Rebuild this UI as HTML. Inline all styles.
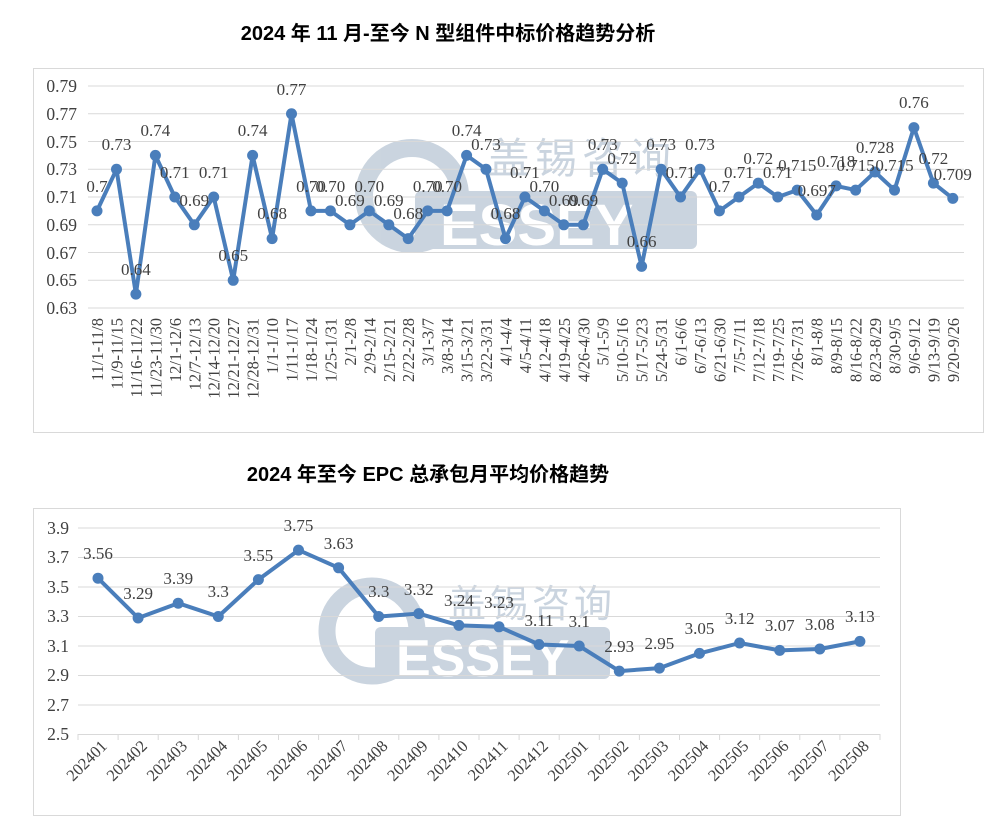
<!DOCTYPE html>
<html><head><meta charset="utf-8"><style>
body{margin:0;background:#fff}
svg{display:block}
.t{font-family:"Liberation Serif","Noto Serif CJK SC",serif;fill:#404040}
.h{font-family:"Liberation Sans","Noto Sans CJK SC",sans-serif;font-weight:bold;fill:#000;font-size:20px}
</style></head><body>
<svg width="989" height="835" viewBox="0 0 989 835">
<text class="h" x="448" y="40" text-anchor="middle">2024 年 11 月-至今 N 型组件中标价格趋势分析</text>
<rect x="33.5" y="68.5" width="950" height="364" fill="none" stroke="#d9d9d9"/>
<g opacity="0.9">
<circle cx="412" cy="196" r="48" fill="none" stroke="#c5d0dc" stroke-width="18"/>
<rect x="415" y="191" width="282" height="58" rx="6" fill="#c5d0dc"/>
<text x="440" y="245" font-family="Liberation Sans,sans-serif" font-weight="bold" font-size="58" fill="#fff">ESSEY</text>
<text x="488" y="173" font-family="Noto Sans CJK SC,sans-serif" font-size="42" fill="#c5d0dc" letter-spacing="5">盖锡咨询</text>
</g>
<g stroke="#d9d9d9" stroke-width="1">
<line x1="88" x2="964" y1="86" y2="86"/><line x1="88" x2="964" y1="113.75" y2="113.75"/><line x1="88" x2="964" y1="141.5" y2="141.5"/><line x1="88" x2="964" y1="169.25" y2="169.25"/><line x1="88" x2="964" y1="197" y2="197"/><line x1="88" x2="964" y1="224.75" y2="224.75"/><line x1="88" x2="964" y1="252.5" y2="252.5"/><line x1="88" x2="964" y1="280.25" y2="280.25"/><line x1="88" x2="964" y1="308" y2="308"/>
</g>
<g class="t" font-size="17.5" text-anchor="end">
<text x="77" y="92">0.79</text><text x="77" y="120">0.77</text><text x="77" y="148">0.75</text><text x="77" y="175">0.73</text><text x="77" y="203">0.71</text><text x="77" y="231">0.69</text><text x="77" y="259">0.67</text><text x="77" y="286">0.65</text><text x="77" y="314">0.63</text>
</g>
<polyline fill="none" stroke="#4a7ebb" stroke-width="4" stroke-linejoin="round" points="97,210.9 116.5,169.3 135.9,294.1 155.4,155.4 174.8,197 194.3,224.8 213.7,197 233.2,280.3 252.6,155.4 272.1,238.6 291.5,113.8 311,210.9 330.4,210.9 349.9,224.8 369.3,210.9 388.8,224.8 408.2,238.6 427.7,210.9 447.1,210.9 466.6,155.4 486,169.3 505.5,238.6 524.9,197 544.4,210.9 563.8,224.8 583.3,224.8 602.7,169.3 622.2,183.1 641.6,266.4 661.1,169.3 680.5,197 700,169.3 719.4,210.9 738.9,197 758.3,183.1 777.8,197 797.2,190.1 816.7,215 836.1,185.9 855.6,190.1 875,172 894.5,190.1 913.9,127.6 933.4,183.1 952.8,198.4"/>
<g fill="#4a7ebb">
<circle cx="97" cy="210.9" r="5.5"/><circle cx="116.5" cy="169.3" r="5.5"/><circle cx="135.9" cy="294.1" r="5.5"/><circle cx="155.4" cy="155.4" r="5.5"/><circle cx="174.8" cy="197" r="5.5"/><circle cx="194.3" cy="224.8" r="5.5"/><circle cx="213.7" cy="197" r="5.5"/><circle cx="233.2" cy="280.3" r="5.5"/><circle cx="252.6" cy="155.4" r="5.5"/><circle cx="272.1" cy="238.6" r="5.5"/><circle cx="291.5" cy="113.8" r="5.5"/><circle cx="311" cy="210.9" r="5.5"/><circle cx="330.4" cy="210.9" r="5.5"/><circle cx="349.9" cy="224.8" r="5.5"/><circle cx="369.3" cy="210.9" r="5.5"/><circle cx="388.8" cy="224.8" r="5.5"/><circle cx="408.2" cy="238.6" r="5.5"/><circle cx="427.7" cy="210.9" r="5.5"/><circle cx="447.1" cy="210.9" r="5.5"/><circle cx="466.6" cy="155.4" r="5.5"/><circle cx="486" cy="169.3" r="5.5"/><circle cx="505.5" cy="238.6" r="5.5"/><circle cx="524.9" cy="197" r="5.5"/><circle cx="544.4" cy="210.9" r="5.5"/><circle cx="563.8" cy="224.8" r="5.5"/><circle cx="583.3" cy="224.8" r="5.5"/><circle cx="602.7" cy="169.3" r="5.5"/><circle cx="622.2" cy="183.1" r="5.5"/><circle cx="641.6" cy="266.4" r="5.5"/><circle cx="661.1" cy="169.3" r="5.5"/><circle cx="680.5" cy="197" r="5.5"/><circle cx="700" cy="169.3" r="5.5"/><circle cx="719.4" cy="210.9" r="5.5"/><circle cx="738.9" cy="197" r="5.5"/><circle cx="758.3" cy="183.1" r="5.5"/><circle cx="777.8" cy="197" r="5.5"/><circle cx="797.2" cy="190.1" r="5.5"/><circle cx="816.7" cy="215" r="5.5"/><circle cx="836.1" cy="185.9" r="5.5"/><circle cx="855.6" cy="190.1" r="5.5"/><circle cx="875" cy="172" r="5.5"/><circle cx="894.5" cy="190.1" r="5.5"/><circle cx="913.9" cy="127.6" r="5.5"/><circle cx="933.4" cy="183.1" r="5.5"/><circle cx="952.8" cy="198.4" r="5.5"/>
</g>
<g class="t" font-size="17" text-anchor="middle">
<text x="97" y="192">0.7</text><text x="116.5" y="150">0.73</text><text x="135.9" y="275">0.64</text><text x="155.4" y="136">0.74</text><text x="174.8" y="178">0.71</text><text x="194.3" y="206">0.69</text><text x="213.7" y="178">0.71</text><text x="233.2" y="261">0.65</text><text x="252.6" y="136">0.74</text><text x="272.1" y="219">0.68</text><text x="291.5" y="95">0.77</text><text x="311" y="192">0.70</text><text x="330.4" y="192">0.70</text><text x="349.9" y="206">0.69</text><text x="369.3" y="192">0.70</text><text x="388.8" y="206">0.69</text><text x="408.2" y="219">0.68</text><text x="427.7" y="192">0.70</text><text x="447.1" y="192">0.70</text><text x="466.6" y="136">0.74</text><text x="486" y="150">0.73</text><text x="505.5" y="219">0.68</text><text x="524.9" y="178">0.71</text><text x="544.4" y="192">0.70</text><text x="563.8" y="206">0.69</text><text x="583.3" y="206">0.69</text><text x="602.7" y="150">0.73</text><text x="622.2" y="164">0.72</text><text x="641.6" y="247">0.66</text><text x="661.1" y="150">0.73</text><text x="680.5" y="178">0.71</text><text x="700" y="150">0.73</text><text x="719.4" y="192">0.7</text><text x="738.9" y="178">0.71</text><text x="758.3" y="164">0.72</text><text x="777.8" y="178">0.71</text><text x="797.2" y="171">0.715</text><text x="816.7" y="196">0.697</text><text x="836.1" y="167">0.718</text><text x="855.6" y="171">0.715</text><text x="875" y="153">0.728</text><text x="894.5" y="171">0.715</text><text x="913.9" y="108">0.76</text><text x="933.4" y="164">0.72</text><text x="952.8" y="180">0.709</text>
</g>
<g class="t" font-size="16.5" text-anchor="end">
<text transform="translate(103,318) rotate(-90)">11/1-11/8</text><text transform="translate(122.5,318) rotate(-90)">11/9-11/15</text><text transform="translate(141.9,318) rotate(-90)">11/16-11/22</text><text transform="translate(161.4,318) rotate(-90)">11/23-11/30</text><text transform="translate(180.8,318) rotate(-90)">12/1-12/6</text><text transform="translate(200.3,318) rotate(-90)">12/7-12/13</text><text transform="translate(219.7,318) rotate(-90)">12/14-12/20</text><text transform="translate(239.2,318) rotate(-90)">12/21-12/27</text><text transform="translate(258.6,318) rotate(-90)">12/28-12/31</text><text transform="translate(278.1,318) rotate(-90)">1/1-1/10</text><text transform="translate(297.5,318) rotate(-90)">1/11-1/17</text><text transform="translate(317,318) rotate(-90)">1/18-1/24</text><text transform="translate(336.4,318) rotate(-90)">1/25-1/31</text><text transform="translate(355.9,318) rotate(-90)">2/1-2/8</text><text transform="translate(375.3,318) rotate(-90)">2/9-2/14</text><text transform="translate(394.8,318) rotate(-90)">2/15-2/21</text><text transform="translate(414.2,318) rotate(-90)">2/22-2/28</text><text transform="translate(433.7,318) rotate(-90)">3/1-3/7</text><text transform="translate(453.1,318) rotate(-90)">3/8-3/14</text><text transform="translate(472.6,318) rotate(-90)">3/15-3/21</text><text transform="translate(492,318) rotate(-90)">3/22-3/31</text><text transform="translate(511.5,318) rotate(-90)">4/1-4/4</text><text transform="translate(530.9,318) rotate(-90)">4/5-4/11</text><text transform="translate(550.4,318) rotate(-90)">4/12-4/18</text><text transform="translate(569.8,318) rotate(-90)">4/19-4/25</text><text transform="translate(589.3,318) rotate(-90)">4/26-4/30</text><text transform="translate(608.7,318) rotate(-90)">5/1-5/9</text><text transform="translate(628.2,318) rotate(-90)">5/10-5/16</text><text transform="translate(647.6,318) rotate(-90)">5/17-5/23</text><text transform="translate(667.1,318) rotate(-90)">5/24-5/31</text><text transform="translate(686.5,318) rotate(-90)">6/1-6/6</text><text transform="translate(706,318) rotate(-90)">6/7-6/13</text><text transform="translate(725.4,318) rotate(-90)">6/21-6/30</text><text transform="translate(744.9,318) rotate(-90)">7/5-7/11</text><text transform="translate(764.3,318) rotate(-90)">7/12-7/18</text><text transform="translate(783.8,318) rotate(-90)">7/19-7/25</text><text transform="translate(803.2,318) rotate(-90)">7/26-7/31</text><text transform="translate(822.7,318) rotate(-90)">8/1-8/8</text><text transform="translate(842.1,318) rotate(-90)">8/9-8/15</text><text transform="translate(861.6,318) rotate(-90)">8/16-8/22</text><text transform="translate(881,318) rotate(-90)">8/23-8/29</text><text transform="translate(900.5,318) rotate(-90)">8/30-9/5</text><text transform="translate(919.9,318) rotate(-90)">9/6-9/12</text><text transform="translate(939.4,318) rotate(-90)">9/13-9/19</text><text transform="translate(958.8,318) rotate(-90)">9/20-9/26</text>
</g>

<text class="h" x="428" y="481" text-anchor="middle">2024 年至今 EPC 总承包月平均价格趋势</text>
<rect x="33.5" y="508.5" width="867" height="307" fill="none" stroke="#d9d9d9"/>
<g opacity="0.9">
<circle cx="372" cy="631" r="45" fill="none" stroke="#c5d0dc" stroke-width="17"/>
<rect x="375" y="627" width="235" height="52" rx="6" fill="#c5d0dc"/>
<text x="396" y="676" font-family="Liberation Sans,sans-serif" font-weight="bold" font-size="52" fill="#fff">ESSEY</text>
<text x="448" y="617" font-family="Noto Sans CJK SC,sans-serif" font-size="38" fill="#c5d0dc" letter-spacing="4">盖锡咨询</text>
</g>
<g stroke="#d9d9d9" stroke-width="1">
<line x1="78" x2="880" y1="528" y2="528"/><line x1="78" x2="880" y1="557.5" y2="557.5"/><line x1="78" x2="880" y1="587" y2="587"/><line x1="78" x2="880" y1="616.5" y2="616.5"/><line x1="78" x2="880" y1="646" y2="646"/><line x1="78" x2="880" y1="675.5" y2="675.5"/><line x1="78" x2="880" y1="705" y2="705"/><line x1="78" x2="880" y1="734.5" y2="734.5"/>
<path d="M78 734v6M118.1 734v6M158.2 734v6M198.3 734v6M238.4 734v6M278.5 734v6M318.6 734v6M358.7 734v6M398.8 734v6M438.9 734v6M479 734v6M519.1 734v6M559.2 734v6M599.3 734v6M639.4 734v6M679.5 734v6M719.6 734v6M759.7 734v6M799.8 734v6M839.9 734v6M880 734v6"/>
</g>
<g class="t" font-size="17.5" text-anchor="end">
<text x="69" y="534">3.9</text><text x="69" y="563">3.7</text><text x="69" y="593">3.5</text><text x="69" y="622">3.3</text><text x="69" y="652">3.1</text><text x="69" y="681">2.9</text><text x="69" y="711">2.7</text><text x="69" y="740">2.5</text>
</g>
<polyline fill="none" stroke="#4a7ebb" stroke-width="4" stroke-linejoin="round" points="98,578.2 138.1,618 178.2,603.2 218.3,616.5 258.4,579.6 298.5,550.1 338.6,567.8 378.7,616.5 418.8,613.6 458.9,625.4 499,626.8 539.1,644.5 579.2,646 619.3,671.1 659.4,668.1 699.5,653.4 739.6,643 779.7,650.4 819.8,649 859.9,641.4"/>
<g fill="#4a7ebb">
<circle cx="98" cy="578.2" r="5.5"/><circle cx="138.1" cy="618" r="5.5"/><circle cx="178.2" cy="603.2" r="5.5"/><circle cx="218.3" cy="616.5" r="5.5"/><circle cx="258.4" cy="579.6" r="5.5"/><circle cx="298.5" cy="550.1" r="5.5"/><circle cx="338.6" cy="567.8" r="5.5"/><circle cx="378.7" cy="616.5" r="5.5"/><circle cx="418.8" cy="613.6" r="5.5"/><circle cx="458.9" cy="625.4" r="5.5"/><circle cx="499" cy="626.8" r="5.5"/><circle cx="539.1" cy="644.5" r="5.5"/><circle cx="579.2" cy="646" r="5.5"/><circle cx="619.3" cy="671.1" r="5.5"/><circle cx="659.4" cy="668.1" r="5.5"/><circle cx="699.5" cy="653.4" r="5.5"/><circle cx="739.6" cy="643" r="5.5"/><circle cx="779.7" cy="650.4" r="5.5"/><circle cx="819.8" cy="649" r="5.5"/><circle cx="859.9" cy="641.4" r="5.5"/>
</g>
<g class="t" font-size="17" text-anchor="middle">
<text x="98" y="559">3.56</text><text x="138.1" y="599">3.29</text><text x="178.2" y="584">3.39</text><text x="218.3" y="597">3.3</text><text x="258.4" y="561">3.55</text><text x="298.5" y="531">3.75</text><text x="338.6" y="549">3.63</text><text x="378.7" y="597">3.3</text><text x="418.8" y="595">3.32</text><text x="458.9" y="606">3.24</text><text x="499" y="608">3.23</text><text x="539.1" y="626">3.11</text><text x="579.2" y="627">3.1</text><text x="619.3" y="652">2.93</text><text x="659.4" y="649">2.95</text><text x="699.5" y="634">3.05</text><text x="739.6" y="624">3.12</text><text x="779.7" y="631">3.07</text><text x="819.8" y="630">3.08</text><text x="859.9" y="622">3.13</text>
</g>
<g class="t" font-size="16.5" text-anchor="end" fill="#4d4d4d">
<text transform="translate(108,747) rotate(-45)">202401</text><text transform="translate(148.1,747) rotate(-45)">202402</text><text transform="translate(188.2,747) rotate(-45)">202403</text><text transform="translate(228.3,747) rotate(-45)">202404</text><text transform="translate(268.4,747) rotate(-45)">202405</text><text transform="translate(308.5,747) rotate(-45)">202406</text><text transform="translate(348.6,747) rotate(-45)">202407</text><text transform="translate(388.7,747) rotate(-45)">202408</text><text transform="translate(428.8,747) rotate(-45)">202409</text><text transform="translate(468.9,747) rotate(-45)">202410</text><text transform="translate(509,747) rotate(-45)">202411</text><text transform="translate(549.1,747) rotate(-45)">202412</text><text transform="translate(589.2,747) rotate(-45)">202501</text><text transform="translate(629.3,747) rotate(-45)">202502</text><text transform="translate(669.4,747) rotate(-45)">202503</text><text transform="translate(709.5,747) rotate(-45)">202504</text><text transform="translate(749.6,747) rotate(-45)">202505</text><text transform="translate(789.7,747) rotate(-45)">202506</text><text transform="translate(829.8,747) rotate(-45)">202507</text><text transform="translate(869.9,747) rotate(-45)">202508</text>
</g>
</svg>
</body></html>
